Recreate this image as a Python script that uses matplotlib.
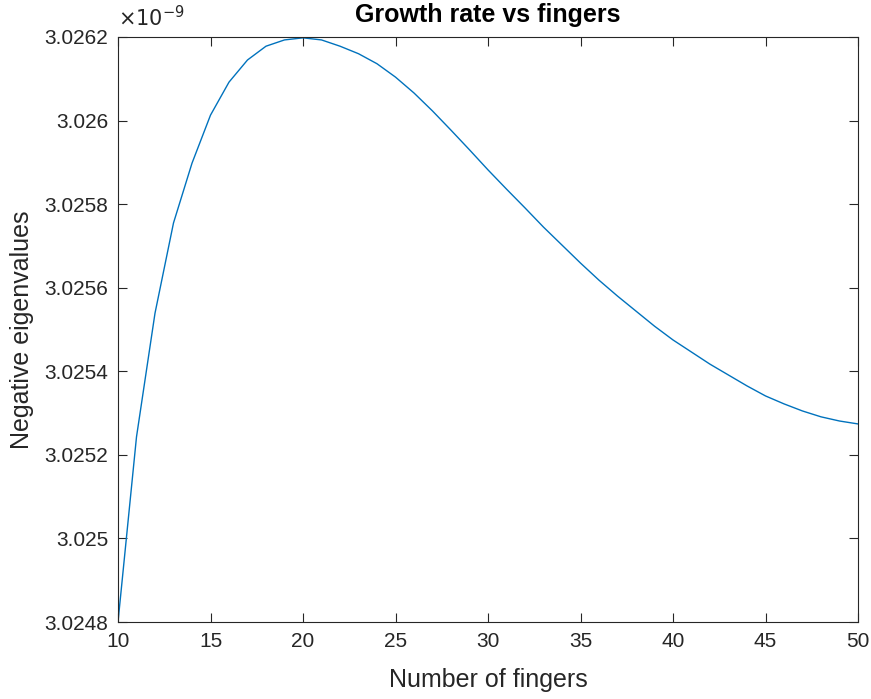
import matplotlib
matplotlib.use('Agg')
import matplotlib.pyplot as plt
from matplotlib.ticker import FuncFormatter

# data (eigenvalues in units of 1e-9)
fingers = list(range(10, 51))
neg_eig = [3.024800, 3.025243, 3.025539, 3.025755, 3.025898, 3.026013, 3.026092,
           3.026145, 3.026178, 3.026193, 3.026198, 3.026193, 3.026178, 3.026160,
           3.026136, 3.026104, 3.026066, 3.026023, 3.025977, 3.025930, 3.025882,
           3.025836, 3.025791, 3.025745, 3.025702, 3.025659, 3.025618, 3.025580,
           3.025544, 3.025508, 3.025475, 3.025446, 3.025417, 3.025391, 3.025365,
           3.025341, 3.025322, 3.025305, 3.025291, 3.025281, 3.025274]
scale = 1e-9
x_ticks = [10, 15, 20, 25, 30, 35, 40, 45, 50]
y_ticks = [3.0248, 3.0250, 3.0252, 3.0254, 3.0256, 3.0258, 3.0260, 3.0262]

plt.rcParams['font.family'] = ['Liberation Sans', 'DejaVu Sans']
dark = '#262626'

fig = plt.figure(figsize=(8.71, 6.99), dpi=100)
ax = fig.add_axes([118 / 871, 1 - 622 / 699, 740 / 871, 585 / 699])

ax.plot(fingers, [v * scale for v in neg_eig], color='#0072BD', linewidth=1.0)

ax.set_xlim(10, 50)
ax.set_ylim(y_ticks[0] * scale, y_ticks[-1] * scale)
ax.set_xticks(x_ticks)
ax.set_yticks([t * scale for t in y_ticks])
ax.yaxis.set_major_formatter(FuncFormatter(lambda v, p: '%g' % round(v / scale, 4)))

ax.tick_params(direction='in', length=6.5, width=0.8, colors=dark,
               labelsize=15, top=True, right=True, pad=7)
for s in ax.spines.values():
    s.set_color(dark)
    s.set_linewidth(0.8)

ax.set_xlabel('Number of fingers', fontsize=18, color=dark)
ax.xaxis.set_label_coords(0.5, (622 - 680) / 585)
ax.xaxis.label.set_va('center')
ax.set_ylabel('Negative eigenvalues', fontsize=18, color=dark)
ax.yaxis.set_label_coords((22 - 118) / 740, 0.5)
ax.yaxis.label.set_va('center')

# title and exponent label placed by hand, MATLAB style
ax.text(0.5, 1 + 22 / 585, 'Growth rate vs fingers', transform=ax.transAxes,
        fontsize=18, fontweight='bold', color='black', ha='center', va='center')
ax.text(0.0, 1 + 19 / 585, r'$\times10^{-9}$', transform=ax.transAxes,
        fontsize=15, color=dark, ha='left', va='center')

plt.savefig('out.png', dpi=100)
plt.close()
